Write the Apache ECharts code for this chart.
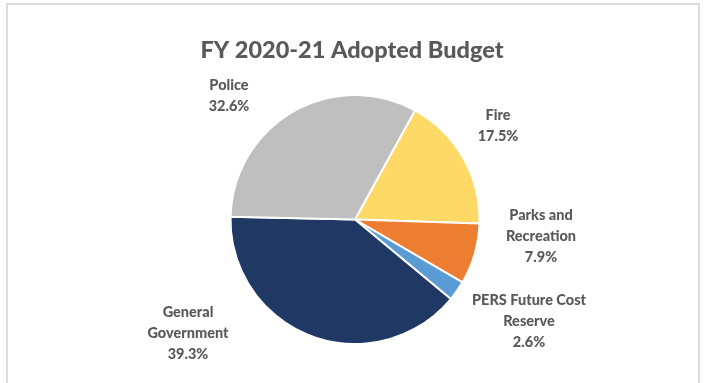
<!DOCTYPE html>
<html>
<head>
<meta charset="utf-8">
<script src="https://cdn.jsdelivr.net/npm/echarts@6/dist/echarts.min.js"></script>
<style>
  html, body { margin: 0; padding: 0; background: #ffffff; }
  #chart { width: 704px; height: 383px; }
</style>
</head>
<body>
<div id="chart"></div>
<script>
// FY 2020-21 adopted budget shares, in percent
const categories = ['Fire', 'Parks and\nRecreation', 'PERS Future Cost\nReserve', 'General\nGovernment', 'Police'];
const shares = [17.5, 7.9, 2.6, 39.3, 32.6];
const sliceColors = ['#FFD966', '#ED7D31', '#5B9BD5', '#203864', '#BFBFBF'];

// where each slice's caption sits (pixel centre of the text block)
const captionSpots = [[498, 126], [541, 236], [529, 321], [188, 333], [229, 96]];

const chart = echarts.init(document.getElementById('chart'), null, { renderer: 'canvas' });

chart.setOption({
  backgroundColor: '#ffffff',
  animation: false,
  title: {
    text: 'FY 2020-21 Adopted Budget',
    left: 'center',
    top: 33,
    textStyle: { fontFamily: 'Lato', fontWeight: 900, fontSize: 23.5, color: '#595959' }
  },
  graphic: [{
    type: 'rect',
    shape: { x: 7, y: 4, width: 692, height: 400 },
    style: { fill: 'none', stroke: '#cfcfcf', lineWidth: 1.5 },
    silent: true
  }],
  series: [{
    type: 'pie',
    center: [355, 219.5],
    radius: 124.5,
    startAngle: 61.2,
    clockwise: true,
    itemStyle: { borderColor: '#ffffff', borderWidth: 2 },
    label: {
      show: true,
      position: 'outside',
      fontFamily: 'Lato',
      fontWeight: 900,
      fontSize: 14.5,
      lineHeight: 21,
      color: '#595959',
      formatter: p => p.name + '\n' + p.value.toFixed(1) + '%'
    },
    labelLine: { show: false },
    labelLayout: p => ({
      x: captionSpots[p.dataIndex][0],
      y: captionSpots[p.dataIndex][1],
      align: 'center',
      verticalAlign: 'middle'
    }),
    data: categories.map((name, i) => ({
      name: name,
      value: shares[i],
      itemStyle: { color: sliceColors[i] }
    }))
  }]
});
</script>
</body>
</html>
